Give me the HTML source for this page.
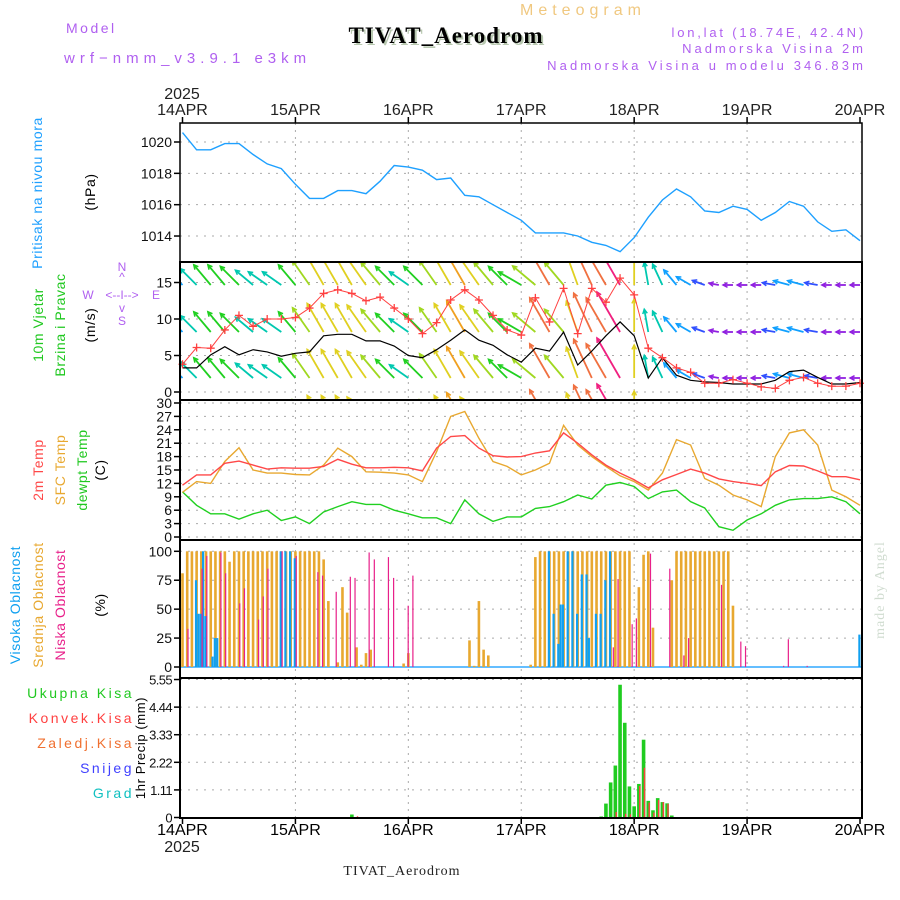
<!DOCTYPE html>
<html><head><meta charset="utf-8"><style>
html,body{margin:0;padding:0;background:#fff}
svg{display:block}
text{font-family:"Liberation Sans",sans-serif}
text.serif{font-family:"Liberation Serif",serif}
</style></head><body>
<svg id="c" width="900" height="900" viewBox="0 0 900 900" xmlns="http://www.w3.org/2000/svg">
<text x="66" y="33" font-size="14" fill="#b060f0" letter-spacing="2.5">Model</text>
<text x="64" y="63" font-size="15" fill="#b060f0" letter-spacing="5">wrf−nmm_v3.9.1 e3km</text>
<text x="520" y="15" font-size="16" fill="#f0c880" letter-spacing="5">Meteogram</text>
<text class="serif" x="448" y="45" font-size="23" font-weight="bold" text-anchor="middle" fill="#b8c8b0" letter-spacing="1">TIVAT_Aerodrom</text>
<text class="serif" x="446" y="43" font-size="23" font-weight="bold" text-anchor="middle" fill="#000" letter-spacing="1">TIVAT_Aerodrom</text>
<text x="866" y="37" font-size="13" text-anchor="end" fill="#b060f0" letter-spacing="2.8">lon,lat (18.74E, 42.4N)</text>
<text x="866" y="53" font-size="13" text-anchor="end" fill="#b060f0" letter-spacing="3">Nadmorska Visina 2m</text>
<text x="866" y="70" font-size="13" text-anchor="end" fill="#b060f0" letter-spacing="3.1">Nadmorska Visina u modelu 346.83m</text>
<text class="serif" x="402" y="875" font-size="14" text-anchor="middle" fill="#222" letter-spacing="1">TIVAT_Aerodrom</text>
<text class="serif" transform="translate(884,590) rotate(-90)" font-size="14" text-anchor="middle" fill="#d0dcd0" letter-spacing="1">made by Angel</text>
<g id="labels" font-size="14"></g>
<g id="grid"></g>
<g id="marks"></g>
<g id="axes"></g>
</svg>
<script>
// ---------------- data ----------------
const dayLabels=["14APR","15APR","16APR","17APR","18APR","19APR","20APR"];
const pressure=[1020.6,1019.5,1019.5,1019.9,1019.9,1019.2,1018.6,1018.3,
1017.3,1016.4,1016.4,1016.9,1016.9,1016.7,1017.5,1018.5,
1018.4,1018.2,1017.6,1017.7,1016.6,1016.5,1016.0,1015.5,
1015.0,1014.2,1014.2,1014.2,1014.0,1013.6,1013.4,1013.0,
1013.9,1015.2,1016.3,1017.0,1016.5,1015.6,1015.5,1015.9,
1015.7,1015.0,1015.5,1016.2,1015.9,1014.9,1014.3,1014.4,1013.7];
const windSpeed=[3.3,3.3,5.1,6.2,5.1,5.8,5.5,4.9,5.3,5.5,7.7,7.9,7.9,7.0,7.0,6.3,
5.0,4.7,5.8,7.1,8.5,7.1,6.4,5.1,4.1,6.0,5.6,8.2,3.7,5.6,7.7,9.6,
7.7,1.9,4.7,2.3,1.6,1.4,1.3,1.1,1.1,1.1,1.6,2.8,3.0,2.0,1.1,1.1,1.3];
const windGust=[3.8,6.1,6.0,8.5,10.5,9.0,10.0,10.0,10.2,11.5,13.5,14.0,13.5,12.5,13.0,11.5,
10.0,8.0,9.5,12.6,14.0,12.6,10.5,8.5,7.8,12.9,9.6,14.2,8.0,14.2,12.3,15.6,
13.3,6.0,4.7,3.3,2.7,1.2,1.2,1.7,1.2,0.7,0.5,1.6,2.0,1.2,0.8,0.8,1.2];
const arrowSpeed=[6,7,8,8,8,7,7,7,8,9,10,10,10,10,9,8,7,8,9,10,11,10,9,8,
8,9,12,9,10,13,12,14,10,7,7,6,5,4,3,3,3,3,4,5,5,4,3,3,3];
const arrowDir=[-45,-45,-40,-40,-45,-50,-55,-55,-40,-35,-30,-30,-30,-35,-40,-45,
-55,-45,-35,-30,-30,-35,-40,-45,-60,-50,-30,-40,-20,-25,-30,-30,
0,-10,-25,-40,-60,-70,-80,-90,-90,-90,-80,-75,-75,-80,-90,-90,-90];
const temp2m=[11.6,13.9,13.9,16.5,17.0,16.1,15.2,15.5,15.4,15.4,15.8,17.4,16.3,15.5,15.5,15.6,
15.5,14.8,19.9,22.5,22.7,19.9,18.2,17.9,18.0,18.8,19.3,23.3,21.0,18.4,16.1,14.3,
12.8,11.0,12.8,14.0,15.2,14.3,13.0,12.4,12.0,11.5,14.6,16.0,15.9,14.8,13.5,13.5,12.8];
const tempSfc=[10.0,12.4,12.0,16.9,20.0,15.0,14.3,14.3,14.0,13.9,16.1,19.9,18.0,14.6,14.5,14.3,
13.9,12.4,19.1,27.0,28.1,22.1,16.9,15.8,13.9,15.0,16.5,25.0,20.6,18.0,15.8,13.7,
12.4,10.5,14.3,21.8,20.6,13.1,11.6,9.4,8.3,6.8,18.0,23.3,24.0,20.6,10.5,9.0,7.1];
const dewpt=[10.1,7.1,5.2,5.2,4.0,5.2,6.0,3.7,4.5,3.0,5.6,6.8,7.9,7.3,7.3,6.0,
5.2,4.3,4.3,3.0,8.3,5.2,3.5,4.5,4.5,6.4,6.8,7.9,9.4,8.5,11.6,12.2,
11.3,8.6,10.1,10.5,7.9,6.5,2.3,1.5,3.8,5.2,7.1,8.3,8.6,8.6,9.0,7.9,5.2];
const midHours=[0,1,2,3,4,5,6,7,8,9,10,11,12,13,14,15,16,17,18,19,20,21,22,23,24,25,26,27,28,29,30,31,33,34,35,37,38,39,40,47,48,61,62,63,64,65,
74,75,76,77,78,79,80,81,82,83,84,85,86,87,88,89,90,91,92,93,94,95,97,98,99,100,104,105,106,107,108,109,110,111,112,113,114,115,116,117];
const midVals=[81,100,100,100,100,100,100,100,100,100,91,100,100,100,100,100,100,100,100,100,100,100,100,100,100,100,100,100,100,100,93,57,4,69,47,17,2,12,15,3,12,23,1,57,15,10,
2,95,100,100,100,100,100,100,100,100,100,100,100,100,100,100,100,100,100,100,100,100,69,97,100,34,75,100,100,100,100,100,100,100,100,100,100,100,100,53];
const highHours=[3,3.5,4,4.5,5,6.5,7,7.5,21,22,23,24,78,79,80,80.5,81,82,83,84,85,86,86.5,88,89,90,91,144];
const highVals=[75,46,46,100,44,9,25,25,100,100,100,94,100,46,20,54,54,100,100,46,80,80,25,46,46,75,100,28];
const lowHours=[1,4,5,8,9,12,13,16,17,18,21,24,28.6,29.6,32.5,35.5,36.5,39.5,40.6,43.6,44.7,47.8,48.8,
91.4,92.4,95.4,96.3,99.3,103.4,106.4,107.4,114.4,118.5,119.5,127.6,128.6,132.6];
const lowVals=[33,85,96,99,81,55,68,41,61,85,100,96,82,79,65,78,77,99,93,95,77,53,79,
17,76,37,42,98,85,10,25,71,22,18,1,24,1];
const precipHours=[36,37,89,90,91,92,93,94,95,96,97,98,99,100,101,102,103,104,105];
const precipTotal=[0.12,0,0.04,0.56,1.41,2.09,5.34,3.81,1.25,0.45,1.35,3.13,0.67,0.29,0.78,0.62,0.57,0.08,0.01];
const precipConv=[0,0.05,0,0,0,0.22,0,0.15,0.13,0,1.27,2.0,0.6,0.2,0.7,0.62,0.55,0,0.02];
const pTicks=[1014,1016,1018,1020];
const wTicks=[0,5,10,15];
const tTicks=[0,3,6,9,12,15,18,21,24,27,30];
const cTicks=[0,25,50,75,100];
const rTicks=[0,1.11,2.22,3.33,4.44,5.55];
// ---------------- helpers ----------------
const NS="http://www.w3.org/2000/svg";
const X0=182.5,XW=677.5/144,L=180,R=862;
const xH=h=>X0+h*XW;
const yP=p=>142-(p-1020)*15.67;
const yW=v=>392-v*7.3;
const yT=t=>537-t*4.467;
const yC=c=>667-c*1.157;
const yR=v=>817.5-v*24.86;
const panels=[[123,262],[262,400],[400,540],[540,678],[678,818]];
function mk(tag,attrs,parent){const e=document.createElementNS(NS,tag);for(const k in attrs)e.setAttribute(k,attrs[k]);parent.appendChild(e);return e;}
const G=document.getElementById('grid'),M=document.getElementById('marks'),A=document.getElementById('axes'),LB=document.getElementById('labels');
const defs=mk('defs',{},document.getElementById('c'));
panels.forEach((p,i)=>{const cp=mk('clipPath',{id:'cp'+i},defs);mk('rect',{x:L,y:p[0],width:R-L,height:p[1]-p[0]},cp);});
function hgrid(ticks,f,pi,fmt){ticks.forEach(t=>{const y=f(t);
 const g=mk('line',{x1:L,x2:R,y1:y,y2:y,stroke:'#aaa','stroke-width':1,'stroke-dasharray':'2,6'},G);
 
 const tk=mk('line',{x1:L-6,x2:L,y1:y,y2:y,stroke:'#000','stroke-width':1.5},A);
 
 const tx=mk('text',{x:L-8,y:y+5,'font-size':pi==4?13:14,'text-anchor':'end',fill:'#111','letter-spacing':pi==4?-0.6:0},A);
 tx.textContent=fmt?fmt(t):t;});}
hgrid(pTicks,yP,0);hgrid(wTicks,yW,1);hgrid(tTicks,yT,2);hgrid(cTicks,yC,3);hgrid(rTicks,yR,4,t=>t===0?'0':t.toFixed(2));
for(let d=1;d<6;d++){const x=xH(d*24);
 const v=mk('line',{x1:x,x2:x,y1:123,y2:818,stroke:'#aaa','stroke-width':1,'stroke-dasharray':'2,5'},G);
 }
dayLabels.forEach((d,i)=>{const x=xH(i*24);
 const t1=mk('text',{x:x,y:115,'font-size':16,'text-anchor':'middle',fill:'#222'},A);t1.textContent=d;
 
 const t2=mk('text',{x:x,y:835,'font-size':16,'text-anchor':'middle',fill:'#000'},A);t2.textContent=d;
 
 const k=mk('line',{x1:x,x2:x,y1:117,y2:123,stroke:'#000','stroke-width':1.5},A);
 
 const k2=mk('line',{x1:x,x2:x,y1:818,y2:824,stroke:'#000','stroke-width':1.5},A);
 });
[[182,99],[182,852]].forEach(p=>{const t=mk('text',{x:p[0],y:p[1],'font-size':16,'text-anchor':'middle',fill:'#222'},A);t.textContent='2025';
 });
panels.forEach((p,i)=>{const r=mk('rect',{x:L,y:p[0],width:R-L,height:p[1]-p[0],fill:'none',stroke:'#000','stroke-width':i==0?1.5:2},A);
 });
function line(arr,fy,color,name,pi,w){const pts=arr.map((v,i)=>xH(i*3).toFixed(1)+','+fy(v).toFixed(1)).join(' ');
 const pl=mk('polyline',{points:pts,fill:'none',stroke:color,'stroke-width':w||1.4,'clip-path':'url(#cp'+pi+')'},M);
 }
line(pressure,yP,'#1ea0ff','pressure-line',0);
function spdColor(s){if(s<3.5)return'#9020e0';if(s<5)return'#3050ff';if(s<6.5)return'#10a0ff';if(s<7.5)return'#00c8b0';if(s<8.5)return'#20d020';
 if(s<9.5)return'#a0d820';if(s<10.5)return'#e0d020';if(s<12)return'#f0a020';if(s<14)return'#f07040';return'#f02080';}
const wg=mk('g',{'clip-path':'url(#cp1)'},M);
[285,332,378,424].forEach(by=>{arrowSpeed.forEach((s,i)=>{const a=arrowDir[i]*Math.PI/180,len=s*3.3;
 const x1=xH(i*3),y1=by,x2=x1+len*Math.sin(a),y2=y1-len*Math.cos(a);const c=spdColor(s);
 const l=mk('line',{x1:x1,y1:y1,x2:x2,y2:y2,stroke:c,'stroke-width':1.8},wg);
 
 const h1=a+Math.PI*0.85,h2=a-Math.PI*0.85;
 const hd=mk('polyline',{points:`${x2+5*Math.sin(h1)},${y2-5*Math.cos(h1)} ${x2},${y2} ${x2+5*Math.sin(h2)},${y2-5*Math.cos(h2)}`,fill:'none',stroke:c,'stroke-width':1.5},wg);
 });});
line(windSpeed,yW,'#000','wind-speed-line',1,1.2);
line(windGust,yW,'#ff4040','wind-gust-line',1,1);
windGust.forEach((v,i)=>{const x=xH(i*3),y=yW(v);
 const c=mk('path',{d:`M${x-4},${y}H${x+4}M${x},${y-4}V${y+4}`,stroke:'#ff4040','stroke-width':1.3},M);
 });
line(dewpt,yT,'#20d020','dewpoint-line',2);
line(tempSfc,yT,'#e8a830','sfc-temp-line',2);
line(temp2m,yT,'#ff4848','temp-2m-line',2);
const bl=mk('line',{x1:L,x2:R,y1:yC(0),y2:yC(0),stroke:'#30a8ff','stroke-width':1.5},M);

function bars(hours,vals,fy,color,w,off,name,pi){hours.forEach((h,i)=>{const x=xH(h)+off,y=fy(vals[i]),y0=fy(0);
 const r=mk('rect',{x:x-w/2,y:Math.min(y,y0),width:w,height:Math.abs(y0-y),fill:color,'clip-path':'url(#cp'+pi+')'},M);
 });}
bars(midHours,midVals,yC,'#e8a830',2.6,0,'mid-cloud-bar',3);
bars(highHours,highVals,yC,'#10a0f0',2.2,-0.6,'high-cloud-bar',3);
bars(lowHours,lowVals,yC,'#e8208a',1.2,0.8,'low-cloud-bar',3);
bars(precipHours,precipTotal,yR,'#20cc20',3.6,0,'total-precip-bar',4);
bars(precipHours,precipConv,yR,'#ff4040',1.4,0.9,'convective-precip-bar',4);
function vlab(x,y,txt,color,name,size){const t=mk('text',{transform:`translate(${x},${y}) rotate(-90)`,'font-size':size||14,'text-anchor':'middle',fill:color,'letter-spacing':0.6},LB);
 t.textContent=txt;}
vlab(42,193,'Pritisak na nivou mora','#1ea0ff','pressure-title');
vlab(95,192,'(hPa)','#000','pressure-unit');
vlab(43,325,'10m Vjetar','#20c820','wind-title');
vlab(65,325,'Brzina i Pravac','#20c820','wind-subtitle');
vlab(95,325,'(m/s)','#000','wind-unit');
vlab(43,470,'2m Temp','#ff4848','temp-2m-title');
vlab(65,470,'SFC Temp','#e8a830','sfc-temp-title');
vlab(87,470,'dewpt Temp','#20c820','dewpt-title');
vlab(105,470,'(C)','#000','temp-unit');
vlab(20,605,'Visoka Oblacnost','#10a0f0','high-cloud-title');
vlab(43,605,'Srednja Oblacnost','#e8a830','mid-cloud-title');
vlab(65,605,'Niska Oblacnost','#e8208a','low-cloud-title');
vlab(105,605,'(%)','#000','cloud-unit');
vlab(145,748,'1hr Precip (mm)','#000','precip-title',13);
[['Ukupna Kisa','#20c820',698],['Konvek.Kisa','#ff4040',723],['Zaledj.Kisa','#f07030',748],['Snijeg','#4040ff',773],['Grad','#10c0c0',798]].forEach(e=>{
 const t=mk('text',{x:134,y:e[2],'font-size':14,'text-anchor':'end',fill:e[1],'letter-spacing':2.5},LB);t.textContent=e[0];
 });
[['N',122,271],['^',122,281],['<--I-->',122,299],['v',122,312],['S',122,325],['W',88,299],['E',156,299]].forEach(e=>{
 const t=mk('text',{x:e[1],y:e[2],'font-size':12,'text-anchor':'middle',fill:'#b060f0'},LB);t.textContent=e[0];
 });
</script>
</body></html>
